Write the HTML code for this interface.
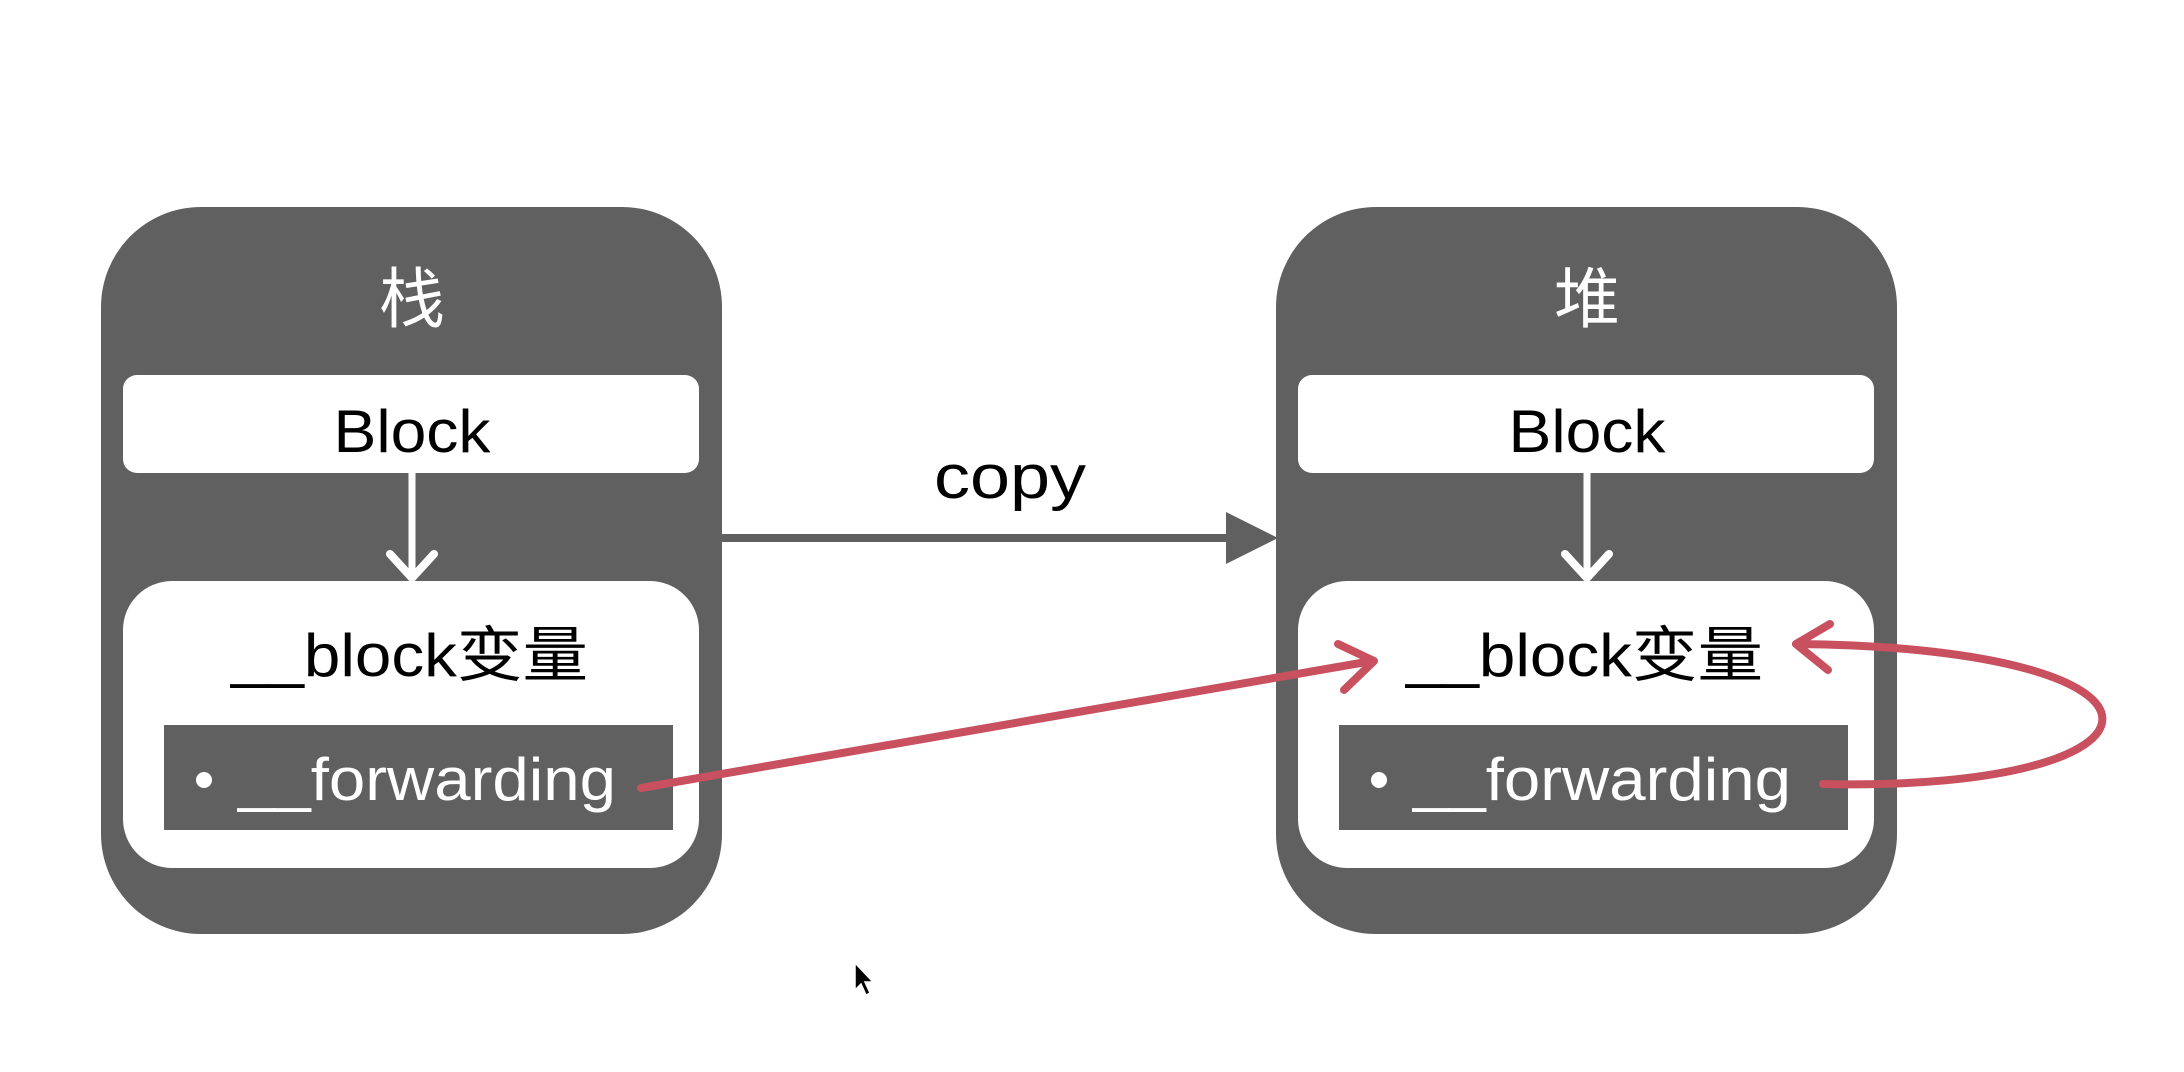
<!DOCTYPE html>
<html><head><meta charset="utf-8"><style>
html,body{margin:0;padding:0;background:#fff;}
svg{display:block;}
text{font-family:"Liberation Sans","Noto Sans CJK SC",sans-serif;}
</style></head><body>
<svg width="2184" height="1072" viewBox="0 0 2184 1072" xmlns="http://www.w3.org/2000/svg">
<defs>
<g id="panel">
  <rect x="101" y="207" width="621" height="727" rx="100" fill="#606060"/>
  <rect x="123" y="375" width="576" height="98" rx="14" fill="#fff"/>
  <line x1="412" y1="473" x2="412" y2="576" stroke="#fff" stroke-width="7"/>
  <polyline points="390,554 412,578 434,554" fill="none" stroke="#fff" stroke-width="8" stroke-linecap="round" stroke-linejoin="round"/>
  <rect x="123" y="581" width="576" height="287" rx="49" fill="#fff"/>
  <rect x="164" y="725" width="509" height="105" fill="#606060"/>
  <text x="412" y="452" font-size="60" text-anchor="middle" textLength="157" lengthAdjust="spacingAndGlyphs" fill="#000">Block</text>
  <text x="231" y="676" font-size="60" textLength="357" lengthAdjust="spacingAndGlyphs" fill="#000">__block变量</text>
  <circle cx="204" cy="780" r="8" fill="#fff"/>
  <text x="238" y="800" font-size="60" textLength="378" lengthAdjust="spacingAndGlyphs" fill="#fff">__forwarding</text>
</g>
</defs>
<use href="#panel"/>
<use href="#panel" transform="translate(1175,0)"/>
<text x="412" y="322" font-size="66" text-anchor="middle" fill="#fff">栈</text>
<text x="1587" y="322" font-size="66" text-anchor="middle" fill="#fff">堆</text>
<!-- copy arrow -->
<line x1="722" y1="538" x2="1230" y2="538" stroke="#606060" stroke-width="8"/>
<polygon points="1226,512 1278,538 1226,564" fill="#606060"/>
<text x="1010" y="498" font-size="62" text-anchor="middle" textLength="152" lengthAdjust="spacingAndGlyphs" fill="#000">copy</text>
<!-- red arrows -->
<g stroke="#c8505f" stroke-width="8" fill="none" stroke-linecap="round" stroke-linejoin="round">
  <line x1="641" y1="788" x2="1372" y2="661"/>
  <polyline points="1338,644 1374,661 1344,690"/>
  <path d="M1823,784 C2190,792 2210,648 1796,644"/>
  <polyline points="1830,624 1796,644 1828,670"/>
</g>
<!-- cursor -->
<polygon points="855,963 855,990 861,984 866,995 870,993 865,982 873,982" fill="#000" stroke="#fff" stroke-width="1.5"/>
</svg>
</body></html>
